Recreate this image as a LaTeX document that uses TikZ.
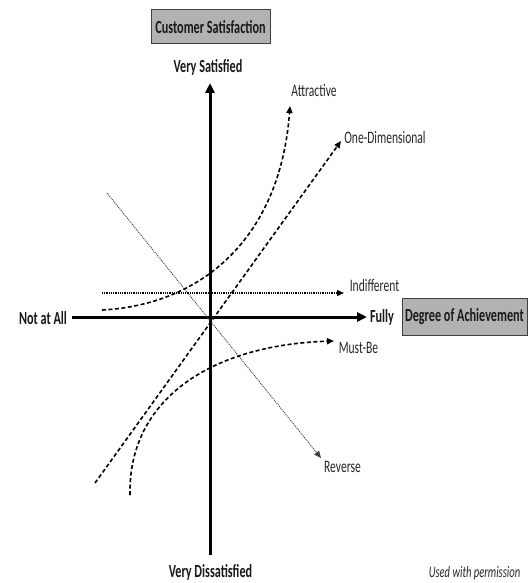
\documentclass[tikz,border=0pt]{standalone}
\usepackage{fontspec}
\setmainfont{Carlito}[FakeStretch=0.66]
\usetikzlibrary{arrows.meta}
\begin{document}
\begin{tikzpicture}[x=1pt,y=-1pt,
  boldlbl/.style={font=\fontsize{18.5}{21}\selectfont\bfseries, inner sep=0pt, text=black!90},
  lbl/.style={font=\fontsize{17.5}{20}\selectfont, inner sep=0pt, text=black!85},
  titlebox/.style={boldlbl, draw=black!75, line width=1pt, fill=black!30, minimum height=34pt},
  axis/.style={line width=3pt, -{Triangle[length=10pt,width=9pt]}},
  curve/.style={line width=1.6pt, dash pattern=on 4pt off 2.5pt, -{Triangle[length=7pt,width=6pt]}},
  dotline/.style={line width=1.3pt, dash pattern=on 1pt off 0.8pt, -{Triangle[length=7pt,width=6pt]}},
  revline/.style={line width=0.9pt, black!75, dash pattern=on 1pt off 1pt, -{Triangle[length=7pt,width=6pt]}}]
\useasboundingbox (0,0) rectangle (529,583);

% labels
\node[titlebox, minimum width=119pt] (cs) at (210.5,27) {Customer Satisfaction};
\node[boldlbl] (vs) at (208,67) {Very Satisfied};
\node[boldlbl] (vd) at (210.5,572) {Very Dissatisfied};
\node[boldlbl] (naa) at (43,318) {Not at All};
\node[boldlbl] (fully) at (382,317) {Fully};
\node[titlebox, minimum width=125pt, minimum height=37pt] (doa) at (464.5,316.5) {Degree of Achievement};
\node[lbl] (attr) at (314,91) {Attractive};
\node[lbl] (onedim) at (385,137) {One-Dimensional};
\node[lbl] (indiff) at (374.5,285) {Indifferent};
\node[lbl] (mustbe) at (358.5,348) {Must-Be};
\node[lbl] (rev) at (342.5,467) {Reverse};
\node[lbl, font=\fontsize{16}{19}\selectfont\itshape] (perm) at (474.5,573) {Used with permission};

% coordinates
\coordinate (O) at (210,317);
\coordinate (hx0) at (72,317);
\coordinate (hx1) at (367,317);
\coordinate (vy0) at (210,555);
\coordinate (vy1) at (210,83);
\coordinate (a0) at (102,310);
\coordinate (a1) at (290,106);
\coordinate (d0) at (95,483);
\coordinate (d1) at (341,141);
\coordinate (i0) at (102,293);
\coordinate (i1) at (344,293);
\coordinate (m0) at (130,495);
\coordinate (m1) at (334,341);
\coordinate (r0) at (107,193);
\coordinate (r1) at (321,458);

% axes
\draw[line width=3pt] (hx0) -- (O);
\draw[axis] (O) -- (hx1);
\draw[line width=3pt] (vy0) -- (O);
\draw[axis] (O) -- (vy1);

% curves
\draw[revline] (r0) -- (r1);
\draw[dotline] (i0) -- (i1);
\draw[curve] (a0) .. controls (200,305) and (280,240) .. (a1);
\draw[curve] (d0) -- (d1);
\draw[curve] (m0) .. controls (128,400) and (210,345) .. (m1);
\end{tikzpicture}
\end{document}
